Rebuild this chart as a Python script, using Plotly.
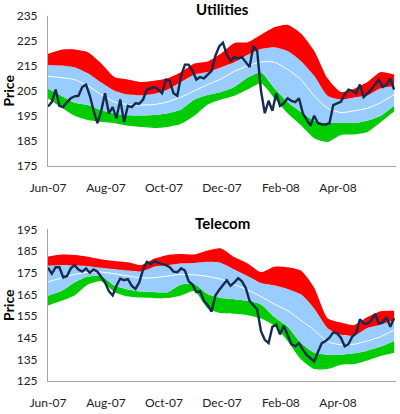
import pandas as pd
import plotly.graph_objects as go
from plotly.subplots import make_subplots

# band points every two weeks, price every four days
band_dates = pd.date_range("2007-06-01", periods=27, freq="14D")
price_dates = pd.date_range("2007-06-01", periods=92, freq="4D")

# ---- Utilities ----
util_hi2 = [219.9, 221.5, 221.6, 220.5, 216.0, 210.5, 209.5, 208.5, 209.0, 210.0,
            212.5, 216.0, 216.8, 220.0, 224.2, 224.5, 227.5, 230.5, 231.5, 228.0,
            221.0, 210.0, 204.5, 205.8, 208.5, 212.5, 211.5]
util_hi1 = [215.4, 215.2, 214.5, 212.0, 208.3, 205.0, 203.5, 203.2, 203.8, 205.5,
            208.5, 211.5, 212.5, 214.5, 216.5, 219.5, 221.8, 222.5, 221.0, 217.0,
            211.0, 203.0, 201.5, 202.3, 203.2, 206.0, 206.8]
util_mid = [210.8, 210.3, 209.5, 207.0, 203.5, 200.5, 199.5, 199.3, 199.5, 200.6,
            202.5, 205.0, 207.5, 209.8, 212.8, 215.0, 216.6, 216.5, 213.6, 209.5,
            203.0, 198.0, 196.3, 197.0, 198.0, 200.3, 203.5]
util_lo1 = [205.8, 203.0, 200.2, 199.3, 197.2, 195.8, 195.2, 195.1, 195.3, 196.0,
            197.5, 201.5, 203.3, 204.5, 206.5, 210.3, 212.3, 206.0, 200.5, 196.5,
            193.0, 192.1, 192.1, 192.1, 193.0, 195.0, 199.0]
util_lo2 = [201.9, 198.3, 195.0, 193.3, 192.5, 192.0, 191.0, 190.5, 190.1, 190.5,
            191.8, 195.0, 199.5, 201.5, 203.0, 205.5, 208.0, 202.0, 196.0, 191.2,
            186.0, 184.5, 187.3, 187.5, 188.5, 192.5, 196.7]
util_price = [198.7, 200.5, 205.5, 199.0, 198.5, 200.5, 202.0, 202.8, 203.0, 206.5,
              207.5, 203.0, 197.0, 192.0, 197.0, 204.0, 196.0, 198.5, 194.0, 201.5,
              192.5, 199.0, 198.5, 200.0, 199.8, 201.5, 205.5, 206.0, 206.5, 205.5,
              204.0, 209.5, 209.0, 204.0, 203.0, 211.0, 215.5, 215.5, 213.0, 209.5,
              210.5, 210.0, 211.5, 213.0, 219.0, 222.8, 224.3, 219.5, 217.0, 218.5,
              218.0, 218.5, 216.5, 214.5, 223.0, 221.0, 205.0, 196.0, 201.0, 197.0,
              204.0, 199.0, 200.0, 202.0, 201.0, 200.5, 202.0, 196.0, 193.5, 191.0,
              195.0, 192.0, 191.5, 191.5, 192.0, 199.3, 200.0, 200.6, 203.5, 205.5,
              205.0, 204.0, 207.5, 202.5, 204.0, 205.5, 207.5, 209.5, 206.5, 207.5,
              210.0, 205.5]

# ---- Telecom ----
tel_hi2 = [182.5, 183.4, 183.2, 182.4, 181.2, 180.4, 179.8, 178.5, 181.5, 183.2,
           183.6, 183.4, 185.2, 186.2, 182.2, 179.3, 175.3, 177.8, 177.5, 176.0,
           168.0, 154.0, 152.0, 150.8, 154.5, 157.2, 157.4]
tel_hi1 = [178.2, 178.6, 178.3, 178.0, 177.3, 176.6, 176.0, 175.6, 177.8, 178.5,
           179.3, 179.5, 180.0, 179.5, 176.5, 173.5, 170.3, 169.2, 167.5, 165.0,
           158.5, 149.5, 146.3, 146.0, 149.5, 151.0, 153.0]
tel_mid = [170.8, 172.5, 174.2, 175.2, 175.3, 174.5, 173.5, 172.6, 172.7, 173.5,
           174.2, 174.0, 173.3, 172.0, 169.5, 167.0, 164.0, 160.5, 157.5, 153.0,
           148.5, 143.2, 141.7, 142.0, 143.5, 145.5, 148.5]
tel_lo1 = [164.4, 166.5, 170.5, 173.2, 173.5, 169.0, 167.3, 166.3, 166.0, 166.0,
           169.5, 169.8, 165.0, 163.3, 162.8, 162.0, 160.3, 154.5, 150.0, 142.5,
           138.0, 137.1, 137.1, 137.8, 139.0, 140.9, 143.5]
tel_lo2 = [159.9, 162.0, 164.5, 169.5, 171.0, 166.0, 164.0, 163.5, 163.2, 163.3,
           164.5, 166.5, 158.5, 156.3, 156.1, 155.4, 153.8, 150.5, 143.5, 135.0,
           130.5, 130.5, 132.5, 132.8, 134.5, 136.5, 138.0]
tel_price = [177.3, 174.5, 177.5, 177.5, 172.8, 173.5, 177.0, 178.5, 176.5, 175.5,
             177.0, 175.0, 176.5, 175.5, 173.0, 170.5, 166.5, 164.5, 169.0, 172.3,
             171.5, 172.0, 169.0, 167.5, 170.5, 176.5, 180.0, 179.0, 180.3, 179.5,
             179.0, 178.5, 177.5, 175.5, 175.2, 177.0, 176.0, 171.0, 169.5, 166.0,
             166.5, 162.0, 160.0, 157.0, 164.5, 167.0, 169.0, 171.5, 169.0, 170.5,
             172.5, 171.0, 168.0, 162.0, 160.0, 158.0, 148.0, 144.0, 142.5, 150.0,
             151.0, 146.5, 150.5, 146.0, 142.0, 141.0, 142.5, 139.5, 137.0, 135.5,
             134.0, 138.5, 142.5, 143.5, 145.0, 147.5, 147.0, 145.0, 141.0, 142.0,
             145.5, 147.0, 153.5, 151.5, 151.5, 153.0, 156.0, 151.5, 152.0, 154.5,
             150.0, 154.0]

RED = "#FF0000"
BLUE = "#99CCFF"
GREEN = "#00CC00"
NAVY = "#172B4D"
FONT = "Lato"

fig = make_subplots(rows=2, cols=1)


def add_panel(row, lo2, lo1, mid, hi1, hi2, price):
    edge = dict(width=0, shape="spline", smoothing=0.6)
    fig.add_trace(go.Scatter(x=band_dates, y=lo2, mode="lines", line=edge,
                             hoverinfo="skip"), row=row, col=1)
    fig.add_trace(go.Scatter(x=band_dates, y=lo1, mode="lines", line=edge,
                             fill="tonexty", fillcolor=GREEN, hoverinfo="skip"),
                  row=row, col=1)
    fig.add_trace(go.Scatter(x=band_dates, y=hi1, mode="lines", line=edge,
                             fill="tonexty", fillcolor=BLUE, hoverinfo="skip"),
                  row=row, col=1)
    fig.add_trace(go.Scatter(x=band_dates, y=hi2, mode="lines", line=edge,
                             fill="tonexty", fillcolor=RED, hoverinfo="skip"),
                  row=row, col=1)
    fig.add_trace(go.Scatter(x=band_dates, y=mid, mode="lines",
                             line=dict(color="white", width=1, shape="spline",
                                       smoothing=0.6)), row=row, col=1)
    fig.add_trace(go.Scatter(x=price_dates, y=price, mode="lines",
                             line=dict(color=NAVY, width=2.4)), row=row, col=1)


add_panel(1, util_lo2, util_lo1, util_mid, util_hi1, util_hi2, util_price)
add_panel(2, tel_lo2, tel_lo1, tel_mid, tel_hi1, tel_hi2, tel_price)

xax = dict(range=["2007-06-01", "2008-06-01"], tick0="2007-06-01", dtick="M2",
           tickformat="%b-%y", showgrid=False, zeroline=False, showline=True,
           linecolor="#A6A6A6", linewidth=1, ticks="", ticklabelstandoff=11,
           tickfont=dict(family=FONT, size=12, color="#222"))
yax = dict(showgrid=False, zeroline=False, showline=True, linecolor="#A6A6A6",
           linewidth=1, ticks="", dtick=10, ticklabelstandoff=7,
           tickfont=dict(family=FONT, size=12, color="#222"),
           title=dict(text="<b>Price</b>", standoff=3,
                      font=dict(family=FONT, size=14, color="black")))

fig.update_layout(
    width=400, height=414,
    margin=dict(l=47, r=4, t=16, b=27),
    paper_bgcolor="white", plot_bgcolor="white",
    showlegend=False,
    xaxis=dict(xax, domain=[0, 1]),
    xaxis2=dict(xax, domain=[0, 1]),
    yaxis=dict(yax, range=[175, 235], tick0=175, domain=[0.59, 1]),
    yaxis2=dict(yax, range=[125, 195], tick0=125, domain=[0, 0.4154]),
    annotations=[
        dict(text="<b>Utilities</b>", x=0.5, y=1.019, xref="paper", yref="paper",
             yanchor="middle", showarrow=False,
             font=dict(family=FONT, size=15, color="black")),
        dict(text="<b>Telecom</b>", x=0.5, y=0.4316, xref="paper", yref="paper",
             yanchor="middle", showarrow=False,
             font=dict(family=FONT, size=15, color="black")),
    ],
)

fig.write_html("out.html", config={"displayModeBar": False},
               post_script="document.body.style.margin='0';")
